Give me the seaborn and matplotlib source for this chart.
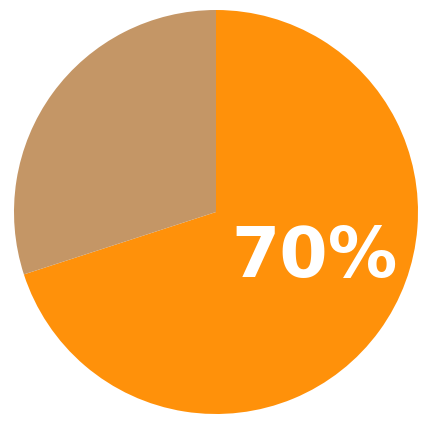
import matplotlib
matplotlib.use("Agg")
import matplotlib.pyplot as plt
import seaborn as sns

labels = ["Yes", "No"]
shares = [70, 30]
colors = ["#FF910A", "#C49666"]

sns.set_style("white")
plt.rcParams['font.family'] = ['DejaVu Sans']

fig = plt.figure(figsize=(4.3, 4.3), dpi=100)
ax = fig.add_axes([0, 0, 1, 1])
ax.pie(shares, colors=colors, startangle=90, counterclock=False,
       wedgeprops={'linewidth': 0})
ax.text(0.49, -0.225, f"{shares[0]}%", color="white", fontsize=50,
        fontweight="bold", ha="center", va="center")
ax.set_xlim(-216 / 202, 214 / 202)
ax.set_ylim(-218 / 202, 212 / 202)
ax.set_aspect("equal")
ax.axis("off")
fig.savefig("out.png", dpi=100)
